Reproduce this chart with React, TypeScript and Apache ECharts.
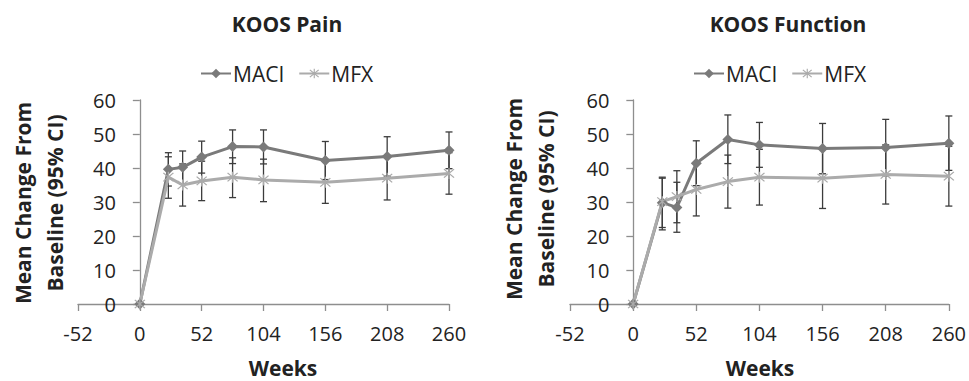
import React, { useEffect, useRef } from "react";
import * as echarts from "echarts";

const weeks = [0, 24, 36, 52, 78, 104, 156, 208, 260];
const xTicks = [-52, 0, 52, 104, 156, 208, 260];

const painMaci = [0, 39.6, 40.2, 43.2, 46.3, 46.2, 42.2, 43.4, 45.2];
const painMaciLow = [0, 34.7, 35.4, 38.5, 41.3, 41.2, 36.6, 37.6, 39.8];
const painMaciHigh = [0, 44.5, 45.0, 47.9, 51.2, 51.2, 47.8, 49.2, 50.6];
const painMfx = [0, 37.3, 35.0, 36.2, 37.3, 36.5, 35.8, 37.0, 38.4];
const painMfxLow = [0, 31.1, 28.8, 30.4, 31.3, 30.1, 29.6, 30.6, 32.3];
const painMfxHigh = [0, 43.3, 41.2, 42.0, 43.0, 42.6, 42.0, 43.4, 44.5];

const funcMaci = [0, 29.8, 28.4, 41.4, 48.4, 46.8, 45.7, 46.0, 47.3];
const funcMaciLow = [0, 22.5, 21.1, 34.8, 41.3, 40.2, 38.3, 37.7, 39.3];
const funcMaciHigh = [0, 37.3, 35.8, 48.0, 55.6, 53.4, 53.1, 54.3, 55.3];
const funcMfx = [0, 30.1, 31.6, 33.7, 36.0, 37.3, 37.0, 38.1, 37.6];
const funcMfxLow = [0, 21.8, 23.9, 25.9, 28.2, 29.1, 28.1, 29.4, 28.8];
const funcMfxHigh = [0, 37.0, 39.2, 41.5, 43.8, 45.5, 45.9, 46.8, 46.4];

const FONT = '"Open Sans", "Noto Sans", sans-serif';
const MACI_COLOR = "#7a7a7a";
const MFX_COLOR = "#ababab";
const AXIS_COLOR = "#8e8e8e";
const ERR_COLOR = "#3c3c3c";

const ASTERISK =
  "path://M9 0 L11 0 L11 20 L9 20 Z M3 1.6 L18.4 17 L17 18.4 L1.6 3 Z M17 1.6 L18.4 3 L3 18.4 L1.6 17 Z";

const GRIDS = [
  { left: 78, top: 100, width: 371, height: 204 },
  { left: 570, top: 100, width: 380, height: 204 },
];

function pairs(xs: number[], ys: number[]) {
  return xs.map((x, i) => [x, ys[i]]);
}
function errData(xs: number[], lo: number[], hi: number[]) {
  return xs
    .map((x, i) => [x, lo[i], hi[i]])
    .filter((d) => d[1] !== d[2]);
}

function errSeries(gi: number, data: number[][]) {
  return {
    type: "custom",
    xAxisIndex: gi,
    yAxisIndex: gi,
    z: 1,
    silent: true,
    encode: { x: 0, y: [1, 2] },
    data,
    renderItem: (params: any, api: any) => {
      const x = api.value(0);
      const top = api.coord([x, api.value(2)]);
      const bot = api.coord([x, api.value(1)]);
      const hw = 3.5;
      const st = { stroke: ERR_COLOR, lineWidth: 1.3 };
      return {
        type: "group",
        children: [
          { type: "line", shape: { x1: top[0], y1: top[1], x2: bot[0], y2: bot[1] }, style: st },
          { type: "line", shape: { x1: top[0] - hw, y1: top[1], x2: top[0] + hw, y2: top[1] }, style: st },
          { type: "line", shape: { x1: bot[0] - hw, y1: bot[1], x2: bot[0] + hw, y2: bot[1] }, style: st },
        ],
      };
    },
  };
}

function lineSeries(gi: number, name: string, data: number[][], isMaci: boolean) {
  return {
    type: "line",
    name,
    xAxisIndex: gi,
    yAxisIndex: gi,
    z: 3,
    data,
    symbol: isMaci ? "diamond" : ASTERISK,
    symbolSize: 11,
    lineStyle: { color: isMaci ? MACI_COLOR : MFX_COLOR, width: 3 },
    itemStyle: { color: isMaci ? MACI_COLOR : MFX_COLOR },
  };
}

function xAxis(gi: number) {
  return {
    type: "value",
    gridIndex: gi,
    min: xTicks[0],
    max: xTicks[xTicks.length - 1],
    interval: 52,
    axisLine: { show: true, lineStyle: { color: AXIS_COLOR, width: 1.3 } },
    axisTick: { show: true, length: 7, lineStyle: { color: AXIS_COLOR, width: 1.3 } },
    splitLine: { show: false },
    axisLabel: { color: "#222", fontFamily: FONT, fontSize: 20, margin: 19 },
  };
}

function yAxis(gi: number) {
  const g = GRIDS[gi];
  const xr = xTicks[xTicks.length - 1] - xTicks[0];
  const shift = ((0 - xTicks[0]) / xr) * g.width;
  return {
    type: "value",
    gridIndex: gi,
    min: 0,
    max: 60,
    interval: 10,
    offset: -shift,
    axisLine: { show: true, onZero: false, lineStyle: { color: AXIS_COLOR, width: 1.3 } },
    axisTick: { show: true, length: 7, lineStyle: { color: AXIS_COLOR, width: 1.3 } },
    splitLine: { show: false },
    axisLabel: { color: "#222", fontFamily: FONT, fontSize: 20, margin: 24 },
  };
}

function legend(left: number) {
  return {
    left,
    top: 58,
    data: ["MACI", "MFX"],
    itemWidth: 30,
    itemHeight: 12,
    itemGap: 14,
    selectedMode: false,
    textStyle: { color: "#222", fontFamily: FONT, fontSize: 21, padding: [0, 0, 0, -3] },
  };
}

function text(x: number, y: number, t: string, rot = 0, lh = 26) {
  return {
    type: "text",
    x,
    y,
    rotation: rot,
    silent: true,
    style: {
      text: t,
      font: `bold 21px ${FONT}`,
      fill: "#222",
      textAlign: "center",
      textVerticalAlign: "middle",
      lineHeight: lh,
    },
  };
}

export default function App() {
  const ref = useRef<HTMLDivElement>(null);
  useEffect(() => {
    document.body.style.margin = "0";
    const chart = echarts.init(ref.current!, undefined, { renderer: "svg" });
    chart.setOption({
      animation: false,
      backgroundColor: "#fff",
      grid: GRIDS,
      xAxis: [xAxis(0), xAxis(1)],
      yAxis: [yAxis(0), yAxis(1)],
      legend: [legend(195), legend(688)],
      graphic: [
        text(287, 24, "KOOS Pain"),
        text(788, 24, "KOOS Function"),
        text(283, 368, "Weeks"),
        text(760, 368, "Weeks"),
        text(39, 203, "Mean Change From\nBaseline (95% CI)", Math.PI / 2, 32),
        text(530, 199, "Mean Change From\nBaseline (95% CI)", Math.PI / 2, 32),
      ],
      series: [
        errSeries(0, errData(weeks, painMaciLow, painMaciHigh)),
        errSeries(0, errData(weeks, painMfxLow, painMfxHigh)),
        lineSeries(0, "MACI", pairs(weeks, painMaci), true),
        lineSeries(0, "MFX", pairs(weeks, painMfx), false),
        errSeries(1, errData(weeks, funcMaciLow, funcMaciHigh)),
        errSeries(1, errData(weeks, funcMfxLow, funcMfxHigh)),
        lineSeries(1, "MACI", pairs(weeks, funcMaci), true),
        lineSeries(1, "MFX", pairs(weeks, funcMfx), false),
      ],
    });
    return () => chart.dispose();
  }, []);
  return <div ref={ref} style={{ width: 969, height: 381 }} />;
}
